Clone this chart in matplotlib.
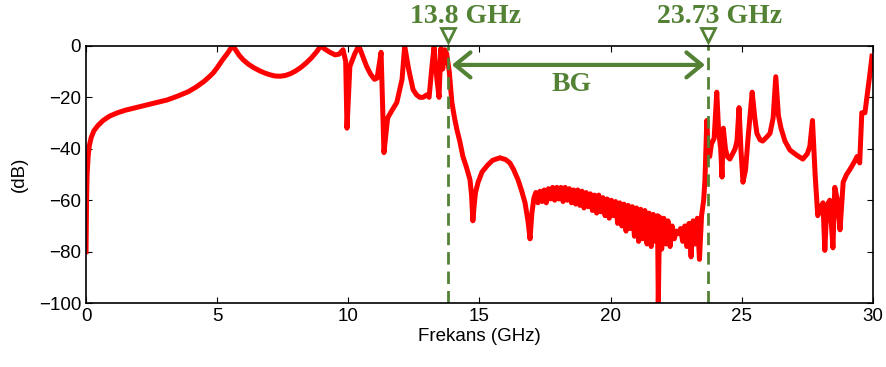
import matplotlib
matplotlib.use('Agg')
import matplotlib.pyplot as plt

# transmission curve of the structure, read point by point (GHz, dB)
freq = [0.0, 0.02, 0.04, 0.08, 0.12, 0.2, 0.3, 0.45, 0.65, 0.9, 1.2, 1.5, 1.9, 2.3,
        2.7, 3.1, 3.5, 3.9, 4.2, 4.5, 4.7, 4.85, 5.0, 5.2, 5.4, 5.55, 5.6,
        5.7, 5.85, 6.0, 6.2, 6.4, 6.6, 6.8, 7.0, 7.2, 7.4, 7.6, 7.8, 8.0, 8.2, 8.4,
        8.6, 8.8, 8.95, 9.1, 9.3, 9.5, 9.65, 9.8, 9.9,
        9.95, 10.06, 10.25, 10.4, 10.55, 10.7, 10.85, 11.0, 11.1, 11.25, 11.36, 11.5,
        11.7, 11.85, 12.05, 12.15, 12.3, 12.47, 12.6, 12.73, 12.85, 13.0, 13.08, 13.2,
        13.27, 13.38, 13.46, 13.53, 13.6, 13.68, 13.75, 13.85, 13.95, 14.05, 14.14,
        14.25, 14.37, 14.5, 14.64, 14.7, 14.75, 14.8, 14.85, 14.95, 15.1, 15.3, 15.5,
        15.78, 16.0, 16.16, 16.3, 16.47, 16.6, 16.74, 16.85, 16.93, 17.0, 17.08,
        17.15, 17.23, 17.31, 17.39, 17.47, 17.55, 17.63, 17.71, 17.79, 17.87, 17.95,
        18.03, 18.11, 18.19, 18.27, 18.35, 18.43, 18.51, 18.59, 18.67, 18.75, 18.83,
        18.91, 18.99, 19.07, 19.15, 19.23, 19.31, 19.39, 19.47, 19.55, 19.63, 19.71,
        19.79, 19.87, 19.95, 20.03, 20.11, 20.19, 20.27, 20.35, 20.43, 20.51, 20.59,
        20.67, 20.75, 20.83, 20.91, 20.99, 21.07, 21.15, 21.23, 21.31, 21.39, 21.47,
        21.55, 21.63, 21.71, 21.79, 21.82, 21.87, 21.95, 22.03, 22.11, 22.19, 22.27,
        22.35, 22.43, 22.51, 22.59, 22.67, 22.75, 22.83, 22.91, 22.99, 23.07, 23.15,
        23.23, 23.31, 23.39, 23.47, 23.55, 23.6, 23.67, 23.72, 23.78, 23.85, 23.95,
        24.05, 24.12, 24.2, 24.25, 24.3, 24.38, 24.45, 24.55, 24.65, 24.75, 24.82,
        24.9, 24.97, 25.05, 25.15, 25.25, 25.4, 25.5, 25.58, 25.7, 25.8, 25.95, 26.08,
        26.2, 26.3, 26.4, 26.5, 26.65, 26.84, 27.1, 27.33, 27.5, 27.6, 27.7, 27.8,
        27.9, 28.0, 28.1, 28.17, 28.25, 28.36, 28.48, 28.55, 28.65, 28.75, 28.87,
        29.0, 29.13, 29.3, 29.4, 29.5, 29.58, 29.7, 29.8, 29.9, 29.97]
gain = [-80, -60, -50, -43, -39, -35.5, -33, -31, -29, -27.3, -26, -25, -24, -23,
        -22, -21, -19.5, -17.8, -16, -13.8, -12, -10.5, -8.5, -5.5, -2.8, -0.5, 0,
        -1.5, -3.8, -5.5, -7.2, -8.5, -9.6, -10.5, -11.2, -11.7, -11.8, -11.5, -10.8,
        -9.7, -8.3, -6.6, -4.6, -2.2, 0, -1.2, -2.5, -3.5, -3.2, -1.5, -6,
        -32, -8, -3, 0, -4, -8, -11, -13, -12.5, -2.5, -41.5, -28,
        -24.5, -22, -13, 0, -9, -17, -19, -20, -20, -19, -20, -7,
        -0.5, -13, -20, -1, -9, -1.5, -3, -10, -22, -28, -32.5,
        -37, -43, -47, -52, -58, -68, -62, -57, -53, -49, -46.5, -44.5,
        -43.5, -44.2, -45.5, -48, -52, -56, -61, -68, -75, -65, -59,
        -57, -61, -56.5, -60.5, -56, -61, -55.5, -59.5, -55, -60, -55,
        -59.5, -55, -60.5, -55, -60, -55.5, -61, -56, -61.5, -56, -62,
        -56.5, -63, -57, -62.5, -57.5, -64, -58, -65, -58, -64.5, -59,
        -66, -59.5, -67, -60, -66, -60.5, -69, -61, -70, -61.5, -72,
        -62, -71, -62.5, -74, -63, -76, -63.5, -75, -64, -77, -65,
        -78, -65.5, -76, -66, -100, -66.5, -79, -67, -77, -68, -78,
        -70, -75, -72, -73, -71, -76, -70, -78, -69, -82, -68,
        -77, -67, -83, -66, -60, -52, -29, -40, -43, -38, -36,
        -18, -33, -40, -51, -32, -40, -43, -44, -42, -40, -37,
        -24, -40, -53, -48, -35, -18, -28, -34, -36.5, -37, -35.5, -34,
        -28, -12, -27, -32, -37, -40.5, -42.5, -44, -42, -39, -29, -50,
        -66, -63, -61, -79.5, -62, -60, -78.5, -55, -60, -71.5, -53,
        -50, -48, -45, -43, -45.5, -26, -26, -18, -10, -4]

# band gap edges
bg_edges = [13.8, 23.73]
bg_labels = ['13.8 GHz', '23.73 GHz']
label_x = [14.49, 24.17]

xticks = [0, 5, 10, 15, 20, 25, 30]
yticks = [-100, -80, -60, -40, -20, 0]

green = '#548235'

plt.rcParams['font.family'] = ['Liberation Sans', 'DejaVu Sans']

fig = plt.figure(figsize=(8.87, 3.67), dpi=100)
ax = fig.add_axes([0.097, 0.174, 0.887, 0.701])

ax.plot(freq, gain, color='red', lw=3.6, solid_joinstyle='round')

for f, lab, lx in zip(bg_edges, bg_labels, label_x):
    ax.plot([f, f], [-100, 0], color=green, lw=2, dashes=(4.5, 2.5))
    ax.plot(f, 4.3, marker='v', ms=10, mfc='white', mec=green, mew=2, clip_on=False)
    ax.text(lx, 11.5, lab, color=green, fontsize=20, fontweight='bold',
            family='Liberation Serif', ha='center', va='center')

ax.annotate('', xy=(13.95, -7.4), xytext=(23.6, -7.4),
            arrowprops=dict(arrowstyle='<->,head_length=0.55,head_width=0.45',
                            color=green, lw=3, mutation_scale=20,
                            shrinkA=0, shrinkB=0))
ax.text(18.53, -15.2, 'BG', color=green, fontsize=20, fontweight='bold',
        family='Liberation Serif', ha='center', va='center')

ax.set_xlim(0, 30)
ax.set_ylim(-100, 0)
ax.set_xticks(xticks)
ax.set_yticks(yticks)
ax.tick_params(direction='in', top=True, right=True, length=4, labelsize=13.5)
for s in ax.spines.values():
    s.set_linewidth(1.2)

ax.set_xlabel('Frekans (GHz)', fontsize=13.5, labelpad=2)
ax.set_ylabel('(dB)', fontsize=13.5, labelpad=8)

fig.savefig('out.png', dpi=100)
